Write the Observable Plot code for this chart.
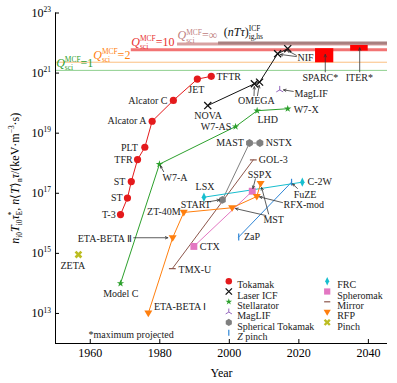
<!DOCTYPE html>
<html><head><meta charset="utf-8">
<script src="https://cdn.jsdelivr.net/npm/d3@7"></script>
<script src="https://cdn.jsdelivr.net/npm/@observablehq/plot@0.6"></script>
<style>body{margin:0;background:#fff}</style>
</head><body><div id="chart"></div>
<script>
// ---------- data ----------
const xDomain = [1950, 2045.5];
const yDomain = [1e12, 1e23];
const xTicks = [1960, 1980, 2000, 2020, 2040];
const yTicks = [1e13, 1e15, 1e17, 1e19, 1e21, 1e23];

const tokamakNames = ["T-3","ST","ST","TFR","PLT","Alcator A","Alcator C","JET","TFTR"];
const tokamakYears = [1968.7,1970.7,1971.8,1973.6,1975.7,1977.8,1983.9,1990.8,1994.8];
const tokamakValues = [1.95e16,6.9e16,2.45e17,1.32e18,3.4e18,2.5e19,1.23e20,6.3e20,7.8e20];

const icfNames = ["NOVA","OMEGA","OMEGA","NIF","NIF"];
const icfYears = [1993.8,2007.2,2008.7,2013.9,2016.8];
const icfValues = [8.3e19,4.4e20,5.0e20,4.4e21,6.5e21];

const stellNames = ["Model C","W7-A","W7-AS","LHD","W7-X"];
const stellYears = [1968.7,1979.9,2001.8,2008.0,2016.8];
const stellValues = [1.0e14,9.3e17,1.66e19,5.6e19,6.5e19];

const maglifNames = ["MagLIF"];
const maglifYears = [2014.5];
const maglifValues = [2.75e20];

const sphTokNames = ["START","MAST","NSTX"];
const sphTokYears = [1998.0,2005.8,2008.8];
const sphTokValues = [6.0e16,4.7e18,4.7e18];

const zpinchNames = ["ZaP","FuZE"];
const zpinchYears = [2002.7,2017.9];
const zpinchValues = [3.5e15,2.34e17];

const frcNames = ["LSX","C-2W"];
const frcYears = [1992.7,2021.0];
const frcValues = [7.4e16,2.34e17];

const spheromakNames = ["CTX","SSPX"];
const spheromakYears = [1989.8,2006.6];
const spheromakValues = [1.7e15,1.17e17];

const mirrorNames = ["TMX-U","GOL-3"];
const mirrorYears = [1983.6,2006.9];
const mirrorValues = [3.1e14,1.29e18];

const rfpNames = ["ETA-BETA I","ETA-BETA II","ZT-40M","MST","RFX-mod","MST"];
const rfpYears = [1976.7,1983.7,1986.9,2000.8,2007.9,2009.0];
const rfpValues = [1.02e13,3.3e15,2.3e16,3.3e16,7.8e16,2.1e17];

const pinchNames = ["ZETA"];
const pinchYears = [1956.6];
const pinchValues = [9.1e14];

// projected machines (maximum projected)
const projNames = ["SPARC*","ITER*"];
const projStart = [2024.8, 2034.9];
const projEnd = [2030.05, 2039.95];
const projLow = [2.2e21, 5.4e21];
const projHigh = [6.5e21, 8.3e21];

// Q reference levels
const qLabels = ["\\i{Q}^{MCF}_{sci}=1","\\i{Q}^{MCF}_{sci}=2","\\i{Q}^{MCF}_{sci}=10","\\i{Q}^{MCF}_{sci}=∞","(\\i{nTτ})^{ICF}_{ig,hs}"];
const qValues = [1.23e21, 2.3e21, 6.0e21, 9.3e21, 1.0e22];
const qLineStart = [1950, 1950, 1971.8, 1985.1, 1996.9];
const qLabelStart = [1950.2, 1960.85, 1971.8, 1985.1, 1998.4];

// device labels: text, year, log10(value), anchor
const labelTexts = ["Alcator C","Alcator A","PLT","TFR","ST","ST","T-3","JET","TFTR","NOVA","OMEGA","NIF","MagLIF","W7-X","LHD","W7-AS","MAST","NSTX","GOL-3","SSPX","LSX","C-2W","FuZE","RFX-mod","MST","ZaP","CTX","START","ZT-40M","ETA-BETA Ⅱ","TMX-U","Model C","ETA-BETA Ⅰ","ZETA","W7-A","SPARC*","ITER*"];
const labelYears = [1982.2,1976.2,1973.7,1972.2,1970.1,1969.3,1967.3,1990.5,1996.3,1993.9,2007.8,2019.6,2018.75,2018.5,2008.1,2000.6,2004.2,2010.5,2008.5,2005.3,1990.3,2022.5,2018.5,2015.6,2009.8,2004.2,1991.5,1986.0,1986.0,1972.0,1985.4,1968.8,1978.3,1955.0,1980.8,2026.2,2037.4];
const labelExps = [20.09,19.40,18.53,18.12,17.39,16.84,16.29,20.45,20.89,19.59,20.09,21.52,20.32,19.79,19.46,19.20,18.67,18.67,18.11,17.62,17.20,17.37,16.94,16.62,16.12,15.54,15.23,16.63,16.37,15.48,14.45,13.67,13.21,14.60,17.52,20.84,20.84];
const labelAnchors = ["end","end","end","end","end","end","end","middle","start","middle","middle","start","start","start","start","end","end","start","start","start","start","start","start","start","start","start","start","start","end","end","start","middle","start","middle","start","middle","middle"];

// annotation arrows: from (year, log10) to (year, log10)
const arrowFromYears = [1972.5,1981.1,2018.4,2007.1,2008.1,2019.3,2019.3,1993.7,2007.5,2015.3,2010.5,2011.3,2019.6,2027.6,2037.5];
const arrowFromExps  = [15.52,17.72,20.39,20.25,20.25,21.55,21.59,16.71,17.48,16.69,16.26,16.31,17.16,21.04,21.04];
const arrowToYears   = [1982.3,1980.2,2015.6,2007.2,2008.6,2014.7,2016.7,1997.2,2006.8,2008.7,2001.8,2009.3,2018.2,2027.6,2037.5];
const arrowToExps    = [15.52,17.91,20.44,20.55,20.59,21.62,21.75,16.78,17.16,16.88,16.49,17.19,17.31,21.62,21.84];

// ---------- symbols ----------
const R = s => Math.sqrt(s / Math.PI);
const symbols = {
  triUp: {draw(c, s){const r=R(s); c.moveTo(0,0); c.lineTo(0,-r); c.moveTo(0,0); c.lineTo(-0.866*r,0.5*r); c.moveTo(0,0); c.lineTo(0.866*r,0.5*r);}},
  vline: {draw(c, s){const r=R(s); c.moveTo(0,-r); c.lineTo(0,r);}},
  hline: {draw(c, s){const r=R(s); c.moveTo(-r,0); c.lineTo(r,0);}},
  triDown: {draw(c, s){const r=R(s); c.moveTo(-r,-0.65*r); c.lineTo(r,-0.65*r); c.lineTo(0,r); c.closePath();}},
  thinDiamond: {draw(c, s){const r=R(s); c.moveTo(0,-1.3*r); c.lineTo(0.62*r,0); c.lineTo(0,1.3*r); c.lineTo(-0.62*r,0); c.closePath();}},
  fatX: {draw(c, s){const a=R(s)*1.25, t=a*0.32, k=Math.SQRT1_2;
    const p=[[t,-a],[t,-t],[a,-t],[a,t],[t,t],[t,a],[-t,a],[-t,t],[-a,t],[-a,-t],[-t,-t],[-t,-a]].map(([x,y])=>[(x-y)*k,(x+y)*k]);
    c.moveTo(p[0][0],p[0][1]); for(let i=1;i<p.length;i++) c.lineTo(p[i][0],p[i][1]); c.closePath();}}
};

const series = [
  {name:"Tokamak", names:tokamakNames, years:tokamakYears, values:tokamakValues, color:"#e41a1c", symbol:"circle", r:3.6, filled:true},
  {name:"Laser ICF", names:icfNames, years:icfYears, values:icfValues, color:"#111111", symbol:"times", r:3.3, filled:false, sw:1.3},
  {name:"Stellarator", names:stellNames, years:stellYears, values:stellValues, color:"#2ca02c", symbol:"star", r:2.3, filled:true},
  {name:"MagLIF", names:maglifNames, years:maglifYears, values:maglifValues, color:"#9467bd", symbol:symbols.triUp, r:4, filled:false, sw:1},
  {name:"Spherical Tokamak", names:sphTokNames, years:sphTokYears, values:sphTokValues, color:"#7f7f7f", symbol:"hexagon", r:3.4, filled:true},
  {name:"\\i{Z} pinch", names:zpinchNames, years:zpinchYears, values:zpinchValues, color:"#2f86d6", symbol:symbols.vline, r:3.4, filled:false, sw:1.2},
  {name:"FRC", names:frcNames, years:frcYears, values:frcValues, color:"#17becf", symbol:symbols.thinDiamond, r:3.6, filled:true},
  {name:"Spheromak", names:spheromakNames, years:spheromakYears, values:spheromakValues, color:"#e377c2", symbol:"square", r:3.9, filled:true},
  {name:"Mirror", names:mirrorNames, years:mirrorYears, values:mirrorValues, color:"#8c564b", symbol:symbols.hline, r:3.4, filled:false, sw:1.2},
  {name:"RFP", names:rfpNames, years:rfpYears, values:rfpValues, color:"#ff7f0e", symbol:symbols.triDown, r:4, filled:true},
  {name:"Pinch", names:pinchNames, years:pinchYears, values:pinchValues, color:"#bcbd22", symbol:symbols.fatX, r:3.3, filled:true}
];
series.forEach(s => s.table = s.years.map((y,i) => ({name:s.names[i], year:y, value:s.values[i]})));

const qLineColors = ["#8fd08f","#fbbf80","#f27474","#d7a2a2","#a98080"];
const qLineWidths = [1, 1, 3, 3, 3];
const qTextColors = ["#2ca02c","#ff7f0e","#e8312f","#c08080","#111111"];
const qTextDy = [-7.5, -7.5, -7.5, -8.5, -11];
const qTable = qValues.map((v,i) => ({label:qLabels[i], value:v, start:qLineStart[i], labelX:qLabelStart[i]}));
const projTable = projNames.map((n,i) => ({name:n, start:projStart[i], end:projEnd[i], low:projLow[i], high:projHigh[i]}));
const labelTable = labelTexts.map((t,i) => ({text:t, year:labelYears[i], value:10**labelExps[i], anchor:labelAnchors[i]}));
const arrowTable = arrowFromYears.map((x,i) => ({x1:x, y1:10**arrowFromExps[i], x2:arrowToYears[i], y2:10**arrowToExps[i]}));

// ---------- marks ----------
const marks = [];
qTable.forEach((q,i) => marks.push(Plot.ruleY([q], {y:"value", x1:"start", x2:xDomain[1], stroke:qLineColors[i], strokeWidth:qLineWidths[i]})));
qTable.forEach((q,i) => marks.push(Plot.text([q], {x:"labelX", y:"value", text:"label", textAnchor:"start", fontSize:12, dy:qTextDy[i], fill:qTextColors[i]})));
marks.push(Plot.rect(projTable, {x1:"start", x2:"end", y1:"low", y2:"high", fill:"#ff0000"}));
series.forEach(s => marks.push(Plot.line(s.table, {x:"year", y:"value", stroke:s.color, strokeWidth:1})));
series.forEach(s => marks.push(Plot.dot(s.table, {x:"year", y:"value", symbol:s.symbol, r:s.r,
  fill: s.filled ? s.color : "none", stroke: s.filled ? "none" : s.color, strokeWidth: s.sw || 1})));
marks.push(Plot.arrow(arrowTable, {x1:"x1", y1:"y1", x2:"x2", y2:"y2", stroke:"#333", strokeWidth:0.8, headLength:5, headAngle:50}));
["start","middle","end"].forEach(a => marks.push(Plot.text(labelTable.filter(d => d.anchor === a),
  {x:"year", y:"value", text:"text", textAnchor:a, fontSize:10, fill:"#222"})));
// axis lines
marks.push(Plot.ruleX([xDomain[0]], {stroke:"#000"}), Plot.ruleY([yDomain[0]], {stroke:"#000"}));
// footnote
marks.push(Plot.text(["*maximum projected"], {x:null, y:null, text:d=>d, frameAnchor:"bottom-left", dx:33, dy:-6, textAnchor:"start", fontSize:10, fill:"#222"}));
// legend
series.forEach((s,i) => {
  const col = i < 6 ? 0 : 1, row = i < 6 ? i : i - 6;
  const mdx = col === 0 ? 173.3 : 271.7, tdx = col === 0 ? 181.7 : 281.7;
  const dy = 268.2 + row * 10.3;
  marks.push(Plot.dot([s], {x:null, y:null, frameAnchor:"top-left", dx:mdx, dy, symbol:s.symbol, r:s.r*0.9,
    fill: s.filled ? s.color : "none", stroke: s.filled ? "none" : s.color, strokeWidth: s.sw || 1}));
  marks.push(Plot.text([s], {x:null, y:null, frameAnchor:"top-left", dx:tdx, dy, text:"name", textAnchor:"start", fontSize:10, fill:"#222"}));
});

const chart = Plot.plot({
  width: 397, height: 383,
  marginLeft: 55, marginRight: 10, marginTop: 12.5, marginBottom: 40,
  style: {fontFamily: "'Liberation Serif', 'Times New Roman', serif", fontSize: "12px", background: "#fff", color: "#000"},
  x: {domain: xDomain, ticks: xTicks, tickFormat: d => String(d), tickSize: -4, tickPadding: 8.5,
      label: "Year", labelAnchor: "center", labelOffset: 33.5, labelArrow: "none"},
  y: {type: "log", domain: yDomain, ticks: yTicks, tickFormat: d => `10^{${Math.round(Math.log10(d))}}`, tickSize: -4, tickPadding: 8.5,
      label: "\\i{n}_{i0}\\i{T}_{i0}\\i{τ}^{*}_{E}, \\i{n}⟨\\i{T}⟩_{n}\\i{τ}/(keV·m^{−3}·s)", labelAnchor: "center", labelOffset: 45, labelArrow: "none"},
  marks
});
document.getElementById("chart").append(chart);

// ---------- rich text (super/subscripts, italics) ----------
function parseRich(s) {
  const out = []; let buf = "", i = 0;
  const flush = () => { if (buf) out.push({text: buf, mode: "n"}); buf = ""; };
  while (i < s.length) {
    const c = s[i];
    if ((c === "^" || c === "_") && s[i+1] === "{") {
      flush(); const j = s.indexOf("}", i+2);
      out.push({text: s.slice(i+2, j), mode: c === "^" ? "sup" : "sub"}); i = j + 1;
    } else if (c === "\\" && s[i+1] === "i" && s[i+2] === "{") {
      flush(); const j = s.indexOf("}", i+3);
      out.push({text: s.slice(i+3, j), mode: "n", italic: true}); i = j + 1;
    } else { buf += c; i++; }
  }
  flush(); return out;
}
function richify(svg) {
  svg.querySelectorAll("text").forEach(t => {
    const s = t.textContent;
    if (!/[\^_]\{|\\i\{/.test(s)) return;
    const fs = parseFloat(getComputedStyle(t).fontSize);
    const segs = parseRich(s);
    while (t.firstChild) t.removeChild(t.firstChild);
    let cur = 0; const spans = [];
    segs.forEach(seg => {
      const ts = document.createElementNS("http://www.w3.org/2000/svg", "tspan");
      ts.textContent = seg.text;
      const target = seg.mode === "sup" ? -0.4 * fs : seg.mode === "sub" ? 0.28 * fs : 0;
      if (target !== cur) ts.setAttribute("dy", target - cur);
      cur = target;
      if (seg.mode !== "n") ts.setAttribute("font-size", 0.62 * fs);
      if (seg.italic) ts.setAttribute("font-style", "italic");
      t.appendChild(ts); spans.push(ts);
    });
    for (let k = 0; k < segs.length - 1; k++) {
      const a = segs[k].mode, b = segs[k+1].mode;
      if ((a === "sup" && b === "sub") || (a === "sub" && b === "sup")) {
        const la = spans[k].getComputedTextLength(), lb = spans[k+1].getComputedTextLength();
        spans[k+1].setAttribute("dx", -la);
        if (spans[k+2]) spans[k+2].setAttribute("dx", Math.max(0, la - lb));
        k++;
      }
    }
  });
}
richify(chart);
</script>
</body></html>
